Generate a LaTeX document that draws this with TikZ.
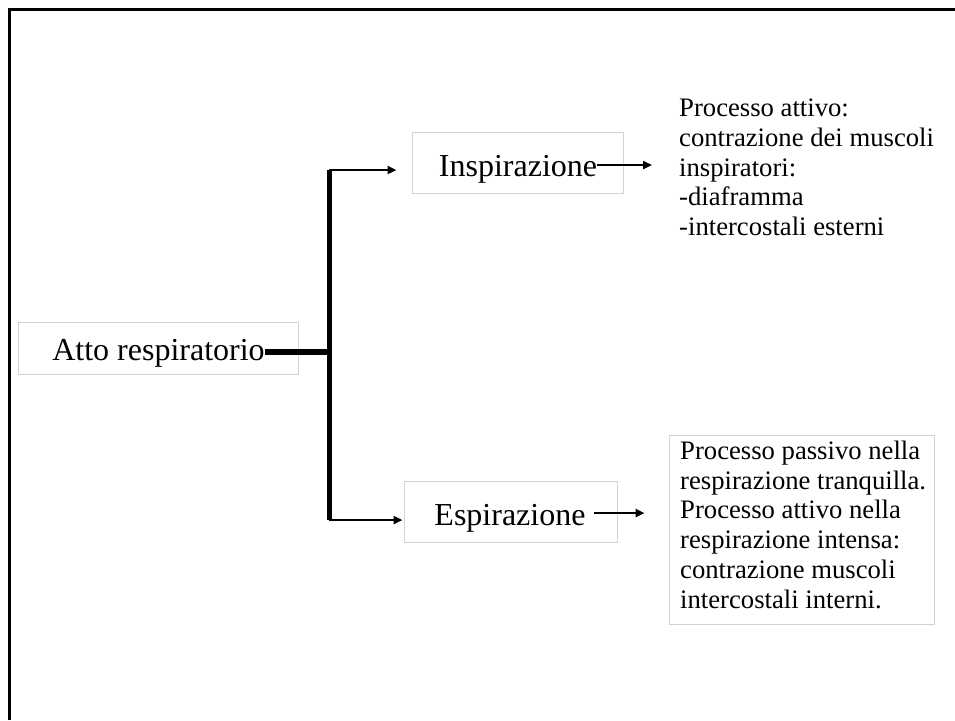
\documentclass[tikz,border=0pt]{standalone}
\usepackage{fontspec}
\setmainfont{Liberation Serif}
\usetikzlibrary{arrows.meta,calc}
\begin{document}
\begin{tikzpicture}[x=1pt,y=-1pt,
  box/.style={draw=gray!35, line width=1pt, inner sep=0pt},
  bigtxt/.style={inner sep=0pt, font=\fontsize{32}{38}\selectfont, anchor=base},
  note/.style={inner sep=0pt, align=left, font=\fontsize{26.67}{29.7}\selectfont, anchor=base west},
  branch/.style={line width=2.5pt, -{Triangle[length=9pt,width=8pt]}},
  trunk/.style={line width=5pt},
  stem/.style={line width=6pt},
]
\useasboundingbox (0,0) rectangle (955,720);
% slide frame (top and left edges)
\draw[line width=3pt] (9,720) -- (9,9) -- (955,9);

% boxes
\node[box, minimum width=280pt, minimum height=52pt] (atto) at (158,348) {};
\node[bigtxt] (attotxt) at (158.5,360) {Atto respiratorio};

\node[box, minimum width=211pt, minimum height=61pt] (insp) at (517.5,162.5) {};
\node[bigtxt] (insptxt) at (518,176) {Inspirazione};

\node[box, minimum width=213pt, minimum height=61pt] (esp) at (510.5,511.5) {};
\node[bigtxt] (esptxt) at (510,525) {Espirazione};

% descriptions (anchored at the baseline of their last line)
\node[note] (det1) at (679,235.5) {Processo attivo:\\contrazione dei muscoli\\inspiratori:\\-diaframma\\-intercostali esterni};

\node[box, minimum width=265pt, minimum height=189pt] (det2box) at (801.5,529.5) {};
\node[note] (det2) at (680,608) {Processo passivo nella\\respirazione tranquilla.\\Processo attivo nella\\respirazione intensa:\\contrazione muscoli\\intercostali interni.};

% branching connector
\coordinate (jtop) at (329,170);
\coordinate (jbot) at (329,520);
\coordinate (p0) at ([yshift=8pt]attotxt.base east);
\draw[stem] (p0) -- (p0 -| jtop);
\draw[trunk] (jtop) -- (jbot);
\draw[branch] (jtop) -- ($(jtop -| insp.west)+(-15,0)$);
\draw[branch] (jbot) -- ($(jbot -| esp.west)+(-1,0)$);

% arrows to the descriptions
\coordinate (p1) at ([yshift=11pt]insptxt.base east);
\draw[branch] (p1) -- ($(p1 -| det1.west)+(-27,0)$);
\coordinate (p2) at ([shift={(8pt,12pt)}]esptxt.base east);
\draw[branch] (p2) -- ($(p2 -| det2box.west)+(-24,0)$);
\end{tikzpicture}
\end{document}
